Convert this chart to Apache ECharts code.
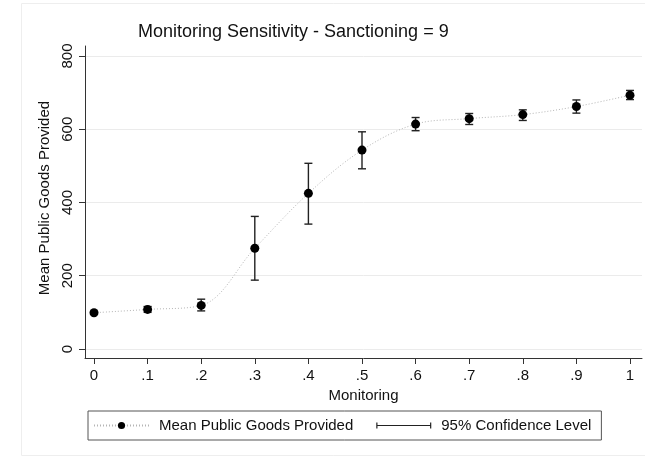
<!DOCTYPE html>
<html>
<head>
<meta charset="utf-8">
<script src="https://cdn.jsdelivr.net/npm/echarts@6/dist/echarts.min.js"></script>
<style>
html,body{margin:0;padding:0;background:#fff;}
#c{width:645px;height:461px;}
</style>
</head>
<body>
<div id="c"></div>
<script>
var monitoring = [0, 0.1, 0.2, 0.3, 0.4, 0.5, 0.6, 0.7, 0.8, 0.9, 1];
var meanGoods = [99, 108, 119, 275, 425, 543, 614, 629, 640, 662, 693];
var ciLower = [95, 100, 104, 188, 341, 492, 596, 613, 624, 644, 681];
var ciUpper = [103, 116, 136, 362, 507, 593, 632, 643, 653, 680, 706];
var xTickValues = [0, 0.1, 0.2, 0.3, 0.4, 0.5, 0.6, 0.7, 0.8, 0.9, 1];
var xTickLabels = ['0', '.1', '.2', '.3', '.4', '.5', '.6', '.7', '.8', '.9', '1'];
var yTickValues = [0, 200, 400, 600, 800];
var yTickLabels = ['0', '200', '400', '600', '800'];

var FONT = '"Liberation Sans", Arial, Helvetica, sans-serif';
var chart = echarts.init(document.getElementById('c'), null, {renderer: 'canvas'});

var lineData = monitoring.map(function (x, i) { return [x, meanGoods[i]]; });
var ciData = monitoring.map(function (x, i) { return [x, ciLower[i], ciUpper[i]]; });

function xLabel(v) {
  for (var i = 0; i < xTickValues.length; i++) {
    if (Math.abs(xTickValues[i] - v) < 1e-6) return xTickLabels[i];
  }
  return '';
}
function yLabel(v) {
  for (var i = 0; i < yTickValues.length; i++) {
    if (Math.abs(yTickValues[i] - v) < 1e-6) return yTickLabels[i];
  }
  return '';
}

var option = {
  animation: false,
  backgroundColor: '#fff',
  graphic: [{
    type: 'rect', z: -10, silent: true,
    shape: {x: 21.5, y: 3.5, width: 640, height: 452},
    style: {fill: 'none', stroke: '#eeeeee', lineWidth: 1}
  }],
  title: {
    text: 'Monitoring Sensitivity - Sanctioning = 9',
    left: 138, top: 23, padding: 0,
    textStyle: {fontFamily: FONT, fontSize: 18, fontWeight: 'normal', color: '#111'}
  },
  grid: {left: 85, right: 3, top: 46, bottom: 103, containLabel: false},
  xAxis: {
    type: 'value',
    min: -0.0168, max: 1.0224,
    name: 'Monitoring',
    nameLocation: 'middle',
    nameGap: 27,
    nameTextStyle: {fontFamily: FONT, fontSize: 15, color: '#111'},
    axisLine: {show: true, onZero: false, lineStyle: {color: '#333', width: 1}},
    axisTick: {show: true, length: 6, customValues: xTickValues, lineStyle: {color: '#333'}},
    axisLabel: {customValues: xTickValues, formatter: xLabel, margin: 10,
      fontFamily: FONT, fontSize: 15, color: '#111'},
    splitLine: {show: false}
  },
  yAxis: {
    type: 'value',
    min: -24.6, max: 827.3,
    name: 'Mean Public Goods Provided',
    nameLocation: 'middle',
    nameGap: 27,
    nameTextStyle: {fontFamily: FONT, fontSize: 15, color: '#111', padding: [0, 0, 0, 8]},
    axisLine: {show: true, onZero: false, lineStyle: {color: '#333', width: 1}},
    axisTick: {show: true, length: 6, customValues: yTickValues, lineStyle: {color: '#333'}},
    axisLabel: {customValues: yTickValues, formatter: yLabel, rotate: 90, margin: 10,
      fontFamily: FONT, fontSize: 15, color: '#111'},
    splitLine: {show: true, lineStyle: {color: '#ebebeb', width: 1}}
  },
  legend: {
    left: 88, top: 411,
    orient: 'horizontal',
    padding: [7, 10, 7, 5],
    borderColor: '#555', borderWidth: 1,
    itemWidth: 55, itemHeight: 9, itemGap: 23,
    textStyle: {fontFamily: FONT, fontSize: 15, color: '#111', padding: [0, 0, 0, 5]},
    data: [
      {name: 'Mean Public Goods Provided'},
      {name: '95% Confidence Level',
       icon: 'path://M0,0 H1.2 V6 H0 Z M0,2.5 H55 V3.5 H0 Z M53.8,0 H55 V6 H53.8 Z',
       itemStyle: {color: '#222'}}
    ]
  },
  series: [
    {
      name: '95% Confidence Level',
      type: 'custom',
      z: 1,
      itemStyle: {color: '#222'},
      encode: {x: 0, y: [1, 2]},
      data: ciData,
      renderItem: function (params, api) {
        var x = api.value(0);
        var lo = api.coord([x, api.value(1)]);
        var hi = api.coord([x, api.value(2)]);
        var hw = 4;
        var st = {stroke: '#222', lineWidth: 1.4};
        return {
          type: 'group',
          children: [
            {type: 'line', shape: {x1: lo[0], y1: lo[1], x2: hi[0], y2: hi[1]}, style: st},
            {type: 'line', shape: {x1: lo[0] - hw, y1: lo[1], x2: lo[0] + hw, y2: lo[1]}, style: st},
            {type: 'line', shape: {x1: hi[0] - hw, y1: hi[1], x2: hi[0] + hw, y2: hi[1]}, style: st}
          ]
        };
      }
    },
    {
      name: 'Mean Public Goods Provided',
      type: 'line',
      z: 3,
      data: lineData,
      smooth: 0.35,
      symbol: 'circle',
      symbolSize: 9,
      itemStyle: {color: '#000', borderWidth: 0},
      lineStyle: {color: '#b5b5b5', width: 1, type: [1, 2]}
    }
  ]
};
chart.setOption(option);
</script>
</body>
</html>
